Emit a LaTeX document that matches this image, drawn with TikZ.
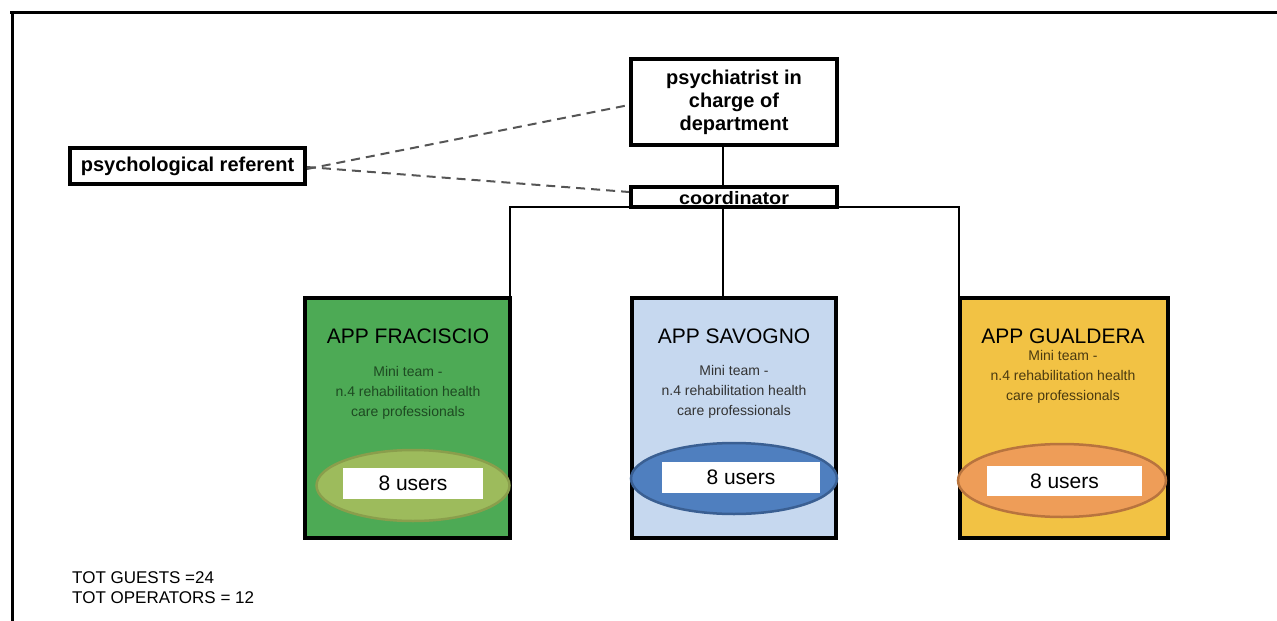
\documentclass[tikz,border=0pt]{standalone}
\usepackage{fontspec}
\setmainfont{Liberation Sans}
\usetikzlibrary{shapes.geometric}
\definecolor{gbox}{HTML}{4DAA55}
\definecolor{bbox}{HTML}{C6D8EF}
\definecolor{obox}{HTML}{F2C244}
\definecolor{gell}{HTML}{9DBB5C}
\definecolor{gelld}{HTML}{8A9E4C}
\definecolor{bell}{HTML}{4F7FBF}
\definecolor{belld}{HTML}{3A5F92}
\definecolor{oell}{HTML}{EE9D58}
\definecolor{oelld}{HTML}{B8743E}
\definecolor{dashc}{HTML}{555555}
\definecolor{gtext}{HTML}{1E4A22}
\definecolor{otext}{HTML}{4A3A10}
\tikzset{
  hbox/.style={draw=black, line width=4pt, fill=white, inner sep=0pt, align=center,
    font=\fontsize{20}{23}\selectfont\bfseries},
  appbox/.style={draw=black, line width=4pt, inner sep=0pt},
  apptitle/.style={font=\fontsize{21}{24}\selectfont, inner sep=0pt},
  appsub/.style={font=\fontsize{14}{20}\selectfont, align=center, inner sep=0pt, text=black!80},
  usersell/.style={ellipse, line width=2.5pt, inner sep=0pt},
  usersbox/.style={fill=white, inner sep=0pt, font=\fontsize{21}{24}\selectfont},
  link/.style={line width=2pt, black},
  dlink/.style={line width=2pt, dashc, dash pattern=on 9pt off 6pt},
}
\begin{document}
\begin{tikzpicture}[x=1pt,y=-1pt]
\useasboundingbox (0,0) rectangle (1277,621);
% frame
\draw[line width=3pt] (10,12) -- (1277,12);
\draw[line width=3pt] (12,12) -- (12,621);

% top nodes
\node[hbox, minimum width=206pt, minimum height=86pt] (psy) at (734,102) {psychiatrist in\\charge of\\department};
\node[hbox, minimum width=206pt, minimum height=20pt, text height=15.5pt, text depth=0.5pt,
  font=\fontsize{18}{20}\selectfont\bfseries\addfontfeature{FakeStretch=1.1}] (coord) at (734,197) {coordinator};
\node[hbox, minimum width=235pt, minimum height=36pt] (ref) at (187.5,166) {psychological referent};

% app boxes
\node[appbox, fill=gbox, minimum width=205pt, minimum height=240pt] (green) at (407.5,418) {};
\node[appbox, fill=bbox, minimum width=204pt, minimum height=240pt] (blue) at (734,418) {};
\node[appbox, fill=obox, minimum width=208pt, minimum height=240pt] (orange) at (1064,418) {};

% titles
\node[apptitle] (gt) at (408,336) {APP FRACISCIO};
\node[apptitle] (bt) at (734,336) {APP SAVOGNO};
\node[apptitle] (ot) at (1063,336) {APP GUALDERA};

% subtexts
\node[appsub, text=gtext] (gs) at (408,393) {Mini team -\\n.4 rehabilitation health\\care professionals};
\node[appsub] (bs) at (734,392) {Mini team -\\n.4 rehabilitation health\\care professionals};
\node[appsub, text=otext] (os) at (1063,377) {Mini team -\\n.4 rehabilitation health\\care professionals};

% ellipses
\node[usersell, fill=gell, draw=gelld, minimum width=193pt, minimum height=71pt] (ge) at (413,485.5) {};
\node[usersell, fill=bell, draw=belld, minimum width=206pt, minimum height=71pt] (be) at (734,478.5) {};
\node[usersell, fill=oell, draw=oelld, minimum width=208pt, minimum height=73pt] (oe) at (1062,480.5) {};

% users boxes
\node[usersbox, minimum width=140pt, minimum height=31pt] (gu) at (413,483.5) {8 users};
\node[usersbox, minimum width=158pt, minimum height=31pt] (bu) at (741,477.5) {8 users};
\node[usersbox, minimum width=155pt, minimum height=30pt] (ou) at (1064.5,481) {8 users};

% connectors
\draw[link] ([xshift=-11pt]psy.south) -- ([xshift=-11pt]coord.north);
\draw[link] ([xshift=-11pt]coord.south) -- ([xshift=-11pt]blue.north);
\draw[link] ([yshift=2pt]coord.south west) -| ([xshift=-2pt]green.north east);
\draw[link] ([yshift=2pt]coord.south east) -| ([xshift=1pt]orange.north west);
\draw[dlink] ([yshift=-3pt]ref.east) -- ([yshift=-3pt]psy.west);
\draw[dlink] ([yshift=-1pt]ref.east) -- ([yshift=5pt]coord.west);

% totals
\node[anchor=west, align=left, inner sep=0pt, font=\fontsize{17}{20}\selectfont] (tot) at (72,588) {TOT GUESTS =24\\TOT OPERATORS = 12};
\end{tikzpicture}
\end{document}
